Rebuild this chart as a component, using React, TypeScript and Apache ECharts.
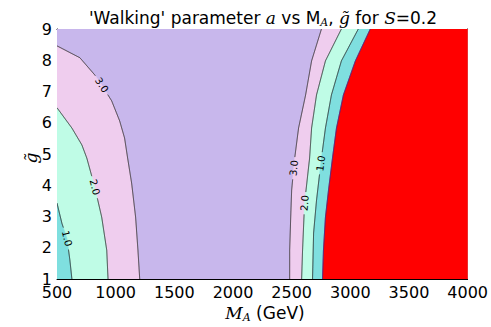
import React, { useEffect, useRef } from "react";
import * as echarts from "echarts";

// Axis ranges / ticks
const xRange = [500, 4000];
const xStep = 500;
const yRange = [1, 9];
const yStep = 1;

// Contour lines: [M_A (GeV), g~]
const contour3L = [[500, 8.46], [695, 8.08], [822, 7.53], [881, 7.21], [966, 6.7], [1034, 6.06], [1076, 5.51], [1102, 4.87], [1136, 4.07], [1170, 2.98], [1190, 1.92], [1205, 1.0]];
const contour2L = [[500, 6.48], [627, 5.83], [712, 5.29], [754, 4.87], [822, 3.94], [881, 2.98], [924, 1.92], [935, 1.0]];
const contour1L = [[500, 3.43], [542, 2.78], [585, 2.3], [610, 1.6], [627, 1.0]];
const contour3R = [[2754, 9], [2670, 7.98], [2619, 6.89], [2559, 5.83], [2526, 4.87], [2500, 3.84], [2492, 2.98], [2483, 1.92], [2483, 1.0]];
const contour2R = [[2924, 9], [2788, 7.98], [2712, 6.89], [2670, 5.83], [2653, 4.87], [2610, 3.42], [2593, 1.92], [2585, 1.0]];
const contour1R = [[3068, 9], [2924, 7.98], [2839, 6.89], [2788, 5.83], [2754, 4.87], [2712, 3.52], [2687, 2.47], [2678, 1.0]];
const contourEdge = [[3170, 9], [3043, 7.98], [2941, 6.89], [2882, 5.83], [2848, 4.87], [2814, 3.84], [2788, 2.98], [2771, 1.92], [2763, 1.0]];

// Contour labels: text and g~ position along each line
const labelNames = ["3.0", "2.0", "1.0", "3.0", "2.0", "1.0"];
const labelG = [7.21, 3.94, 2.3, 4.55, 3.43, 4.7];

const colLavender = "#c8b7ec";
const colPink = "#efcdee";
const colMint = "#bffce6";
const colTeal = "#7fdfdf";
const colRed = "#ff0000";

function maAt(line: number[][], g: number) {
  for (let i = 0; i < line.length - 1; i++) {
    const a = line[i], b = line[i + 1];
    if ((g <= a[1] && g >= b[1]) || (g >= a[1] && g <= b[1])) {
      const t = (g - a[1]) / (b[1] - a[1] || 1);
      return a[0] + t * (b[0] - a[0]);
    }
  }
  return line[0][0];
}

function splitAround(px: number[][], centers: number[][], r: number) {
  const segs: number[][][] = [];
  let cur: number[][] = [];
  const inside = (p: number[]) => centers.some((c) => Math.hypot(p[0] - c[0], p[1] - c[1]) < r);
  for (let i = 0; i < px.length - 1; i++) {
    const a = px[i], b = px[i + 1];
    const len = Math.hypot(b[0] - a[0], b[1] - a[1]);
    const n = Math.max(1, Math.ceil(len / 0.5));
    for (let k = 0; k <= n; k++) {
      if (k === 0 && i > 0) continue;
      const t = k / n;
      const p = [a[0] + t * (b[0] - a[0]), a[1] + t * (b[1] - a[1])];
      if (inside(p)) {
        if (cur.length > 1) segs.push(cur);
        cur = [];
      } else cur.push(p);
    }
  }
  if (cur.length > 1) segs.push(cur);
  return segs;
}

export default function App() {
  const ref = useRef<HTMLDivElement>(null);
  useEffect(() => {
    document.body.style.margin = "0";
    const chart = echarts.init(ref.current!, null, { renderer: "svg" });

    const labelLines = [contour3L, contour2L, contour1L, contour3R, contour2R, contour1R];

    const axisCommon = {
      type: "value" as const,
      splitLine: { show: false },
      axisLine: { show: true, onZero: false, lineStyle: { color: "#000", width: 1 } },
      axisTick: { show: true, inside: true, length: 4, lineStyle: { color: "#000", width: 1 } },
    };
    const tickLabel = {
      show: true, fontSize: 16, color: "#000", fontFamily: "DejaVu Sans",
      showMinLabel: true, showMaxLabel: true, formatter: (v: number) => String(v),
    };

    const richBase = (size: number) => ({
      n: { fontFamily: "DejaVu Sans", fontSize: size, lineHeight: 22, verticalAlign: "bottom" },
      i: { fontFamily: "DejaVu Serif", fontStyle: "italic", fontSize: size, lineHeight: 22, verticalAlign: "bottom" },
      s: { fontFamily: "DejaVu Serif", fontStyle: "italic", fontSize: 11, lineHeight: 22, height: 7, verticalAlign: "bottom" },
    });

    const option: any = {
      animation: false,
      grid: { left: 57, right: 21, top: 29, bottom: 48, containLabel: false },
      xAxis: [
        { ...axisCommon, min: xRange[0], max: xRange[1], interval: xStep, position: "bottom", axisLabel: { ...tickLabel, margin: 5 } },
        { ...axisCommon, min: xRange[0], max: xRange[1], interval: xStep, position: "top", axisLabel: { show: false } },
      ],
      yAxis: [
        { ...axisCommon, min: yRange[0], max: yRange[1], interval: yStep, position: "left", axisLabel: { ...tickLabel, margin: 5 } },
        { ...axisCommon, min: yRange[0], max: yRange[1], interval: yStep, position: "right", axisLabel: { show: false } },
      ],
      graphic: [
        {
          type: "text", x: 263, y: 15,
          style: {
            text: "{n|'Walking' parameter }{i|a}{n| vs M}{s|A}{n|, }{i|g̃}{n| for }{i|S}{n|=0.2}",
            align: "center", verticalAlign: "middle", fill: "#000",
            fontSize: 17, fontFamily: "DejaVu Sans",
            rich: richBase(17),
          },
        },
        {
          type: "text", x: 265, y: 310,
          style: {
            text: "{i|M}{s|A}{n| (GeV)}",
            align: "center", verticalAlign: "middle", fill: "#000",
            fontSize: 17, fontFamily: "DejaVu Sans",
            rich: richBase(17),
          },
        },
        {
          type: "text", x: 31, y: 158, rotation: Math.PI / 2,
          style: {
            text: "g̃", align: "center", verticalAlign: "middle", fill: "#000",
            fontSize: 17, fontFamily: "DejaVu Serif", fontStyle: "italic",
          },
        },
      ],
      series: [
        {
          type: "custom",
          coordinateSystem: "cartesian2d",
          data: [[0, 0]],
          clip: true,
          z: 1,
          renderItem: (params: any, api: any) => {
            const c = (p: number[]) => api.coord(p);
            const x0 = xRange[0], x1 = xRange[1], y0 = yRange[0], y1 = yRange[1];
            const polys: [number[][], string][] = [
              [[[x0, y0], [x0, y1], [x1, y1], [x1, y0]], colLavender],
              [[...contour3L, [x0, y0]], colPink],
              [[...contour3R, [x1, y0], [x1, y1]], colPink],
              [[...contour2L, [x0, y0]], colMint],
              [[...contour2R, [x1, y0], [x1, y1]], colMint],
              [[...contour1L, [x0, y0]], colTeal],
              [[...contour1R, [x1, y0], [x1, y1]], colTeal],
              [[...contourEdge, [x1, y0], [x1, y1]], colRed],
            ];
            const children: any[] = polys.map(([pts, col]) => ({
              type: "polygon",
              shape: { points: pts.map(c), smooth: 0 },
              style: { fill: col, stroke: col, lineWidth: 0.5 },
            }));

            const labelInfo = labelLines.map((line, i) => {
              const g = labelG[i];
              const ma = maAt(line, g);
              const p = c([ma, g]);
              const pa = c([maAt(line, g + 0.3), g + 0.3]);
              const pb = c([maAt(line, g - 0.3), g - 0.3]);
              let ang = Math.atan2(-(pb[1] - pa[1]), pb[0] - pa[0]);
              while (ang > Math.PI / 2) ang -= Math.PI;
              while (ang <= -Math.PI / 2) ang += Math.PI;
              return { p, ang, text: labelNames[i] };
            });

            const lines: [number[][], string, number[][]][] = [
              [contour3L, "#222", [labelInfo[0].p]],
              [contour2L, "#222", [labelInfo[1].p]],
              [contour1L, "#222", [labelInfo[2].p]],
              [contour3R, "#222", [labelInfo[3].p]],
              [contour2R, "#222", [labelInfo[4].p]],
              [contour1R, "#222", [labelInfo[5].p]],
              [contourEdge, "#2a2a9a", []],
            ];
            lines.forEach(([pts, col, centers]) => {
              const px = pts.map(c);
              const segs = splitAround(px, centers, 11);
              segs.forEach((s) =>
                children.push({
                  type: "polyline",
                  shape: { points: s, smooth: 0.3 },
                  style: { stroke: col, lineWidth: 0.9, fill: null },
                })
              );
            });
            labelInfo.forEach((l) =>
              children.push({
                type: "text",
                x: l.p[0], y: l.p[1], rotation: l.ang,
                style: {
                  text: l.text, fill: "#000", align: "center", verticalAlign: "middle",
                  fontSize: 10, fontFamily: "DejaVu Sans",
                },
              })
            );
            return { type: "group", children };
          },
        },
      ],
    };
    chart.setOption(option);
    return () => chart.dispose();
  }, []);
  return <div ref={ref} style={{ width: 491, height: 327 }} />;
}
